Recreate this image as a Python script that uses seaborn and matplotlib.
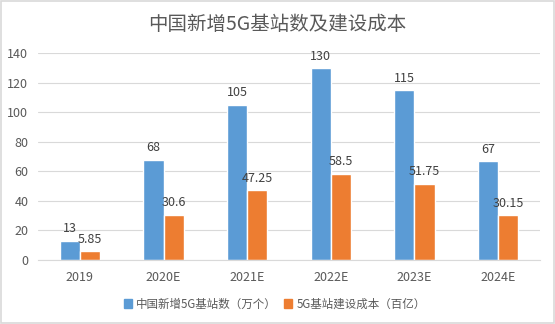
import matplotlib
matplotlib.use("Agg")
import matplotlib.pyplot as plt
import seaborn as sns
import pandas as pd
from matplotlib.patches import Rectangle
from matplotlib.ticker import FixedLocator

categories = ["2019", "2020E", "2021E", "2022E", "2023E", "2024E"]
stations = [13, 68, 105, 130, 115, 67]
costs = [5.85, 30.6, 47.25, 58.5, 51.75, 30.15]
series_names = ["中国新增5G基站数（万个）", "5G基站建设成本（百亿）"]
title = "中国新增5G基站数及建设成本"
colors = ["#5B9BD5", "#ED7D31"]

df = pd.DataFrame({
    "year": categories * 2,
    "value": stations + costs,
    "series": [series_names[0]] * len(categories) + [series_names[1]] * len(categories),
})

sns.set_theme(style="white")
plt.rcParams["font.family"] = ["Noto Sans CJK SC", "DejaVu Sans"]

fig = plt.figure(figsize=(5.55, 3.24), dpi=100)
fig.patch.set_facecolor("white")
ax = fig.add_axes([38 / 555, 64 / 324, (540 - 38) / 555, (260 - 53.3) / 324])

sns.barplot(data=df, x="year", y="value", hue="series", palette=colors,
            width=0.48, gap=0, ax=ax, saturation=1, legend=True)

ax.set_ylim(0, 140)
ax.set_xlim(-0.5, len(categories) - 0.5)
ax.set_yticks(range(0, 141, 20))
ax.grid(axis="y", color="#d9d9d9", linewidth=0.8)
ax.set_axisbelow(True)
for s in ["top", "right", "left"]:
    ax.spines[s].set_visible(False)
ax.spines["bottom"].set_color("#d9d9d9")
ax.spines["bottom"].set_linewidth(0.8)
ax.tick_params(axis="both", which="major", length=0, labelsize=9, colors="#595959")
ax.tick_params(axis="x", which="major", pad=8)
ax.tick_params(axis="y", which="major", pad=7)
ax.xaxis.set_minor_locator(FixedLocator([i - 0.5 for i in range(len(categories) + 1)]))
ax.tick_params(axis="x", which="minor", length=4, color="#d9d9d9", width=0.8)
ax.set_xlabel("")
ax.set_ylabel("")

for cont in ax.containers:
    ax.bar_label(cont, labels=[f"{v:g}" for v in cont.datavalues], padding=4,
                 fontsize=9, color="#404040")

ax.legend_.remove()
handles = [Rectangle((0, 0), 1, 1, color=c) for c in colors]
fig.legend(handles, series_names, loc="center", bbox_to_anchor=(0.495, 20 / 324),
           ncol=2, frameon=False, fontsize=8.3, handlelength=0.7, handleheight=0.7,
           handletextpad=0.4, columnspacing=0.6, labelcolor="#595959")

fig.text(0.5, 1 - 24 / 324, title, ha="center", va="center", fontsize=14, color="#595959")

fig.patches.append(Rectangle((0.001, 0.002), 0.997, 0.995, transform=fig.transFigure,
                             fill=False, edgecolor="#d9d9d9", linewidth=1.2))

fig.savefig("out.png", dpi=100)
